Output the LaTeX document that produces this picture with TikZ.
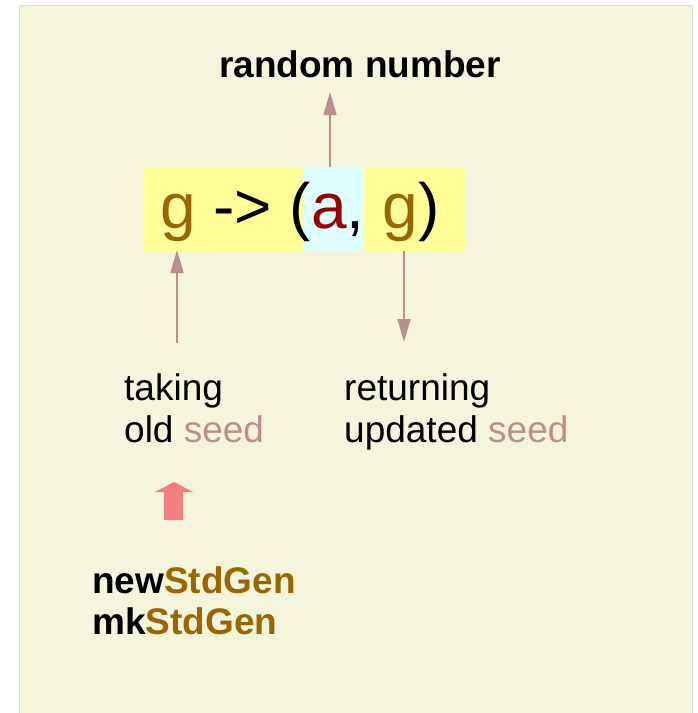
\documentclass[tikz,border=0pt]{standalone}
\usepackage{fontspec}
\setmainfont{Liberation Sans}
\usetikzlibrary{arrows.meta}
\definecolor{bg}{HTML}{F5F5DC}
\definecolor{bordergray}{HTML}{DDDDDD}
\definecolor{yel}{HTML}{FFFF99}
\definecolor{cy}{HTML}{DDFFFF}
\definecolor{gcol}{HTML}{996600}
\definecolor{acol}{HTML}{990000}
\definecolor{seedcol}{HTML}{BC8F8F}
\definecolor{arrcol}{HTML}{BC8F8F}
\definecolor{fatcol}{HTML}{F08080}
\tikzset{
  txt/.style={anchor=base west, inner sep=0pt, font=\fontsize{37}{42}\selectfont},
  btxt/.style={txt, font=\fontsize{37}{42}\selectfont\bfseries},
  conn/.style={draw=arrcol, line width=1.5pt, -{Triangle[length=23pt,width=13pt]}},
  boxbg/.style={inner sep=0pt, minimum height=84pt}
}
\begin{document}
\begin{tikzpicture}[x=1pt,y=-1pt]
\useasboundingbox (0,0) rectangle (697,713);
\fill[bg] (19,5) rectangle (692,713);
\draw[bordergray, line width=1pt] (19,713) -- (19,5) -- (692,5) -- (692,713);

\node[boxbg, fill=yel, minimum width=321pt] (box) at (304.5,209) {};
\node[boxbg, fill=cy, minimum width=61pt] (cyan) at (333.5,209) {};
\node[anchor=base west, inner sep=0pt, font=\fontsize{64}{72}\selectfont] (expr) at (160,228)
  {\textcolor{gcol}{g} -> (\textcolor{acol}{a}, \textcolor{gcol}{g})};

\node[btxt, anchor=base] (rn) at (360,77) {random number};

\node[txt] (tk1) at (124,400) {taking};
\node[txt] (tk2) at (124,442) {old \textcolor{seedcol}{seed}};
\node[txt] (rt1) at (344,400) {returning};
\node[txt] (rt2) at (344,442) {updated \textcolor{seedcol}{seed}};

\node[btxt] (ng) at (92,593) {new\textcolor{gcol}{StdGen}};
\node[btxt] (mk) at (92,634) {mk\textcolor{gcol}{StdGen}};

\coordinate (upS) at (330,167);
\coordinate (upE) at (330,92);
\coordinate (inS) at (177,343);
\coordinate (inE) at (177,250);
\coordinate (outS) at (404,251);
\coordinate (outE) at (404,342);
\draw[conn] (upS) -- (upE);
\draw[conn] (inS) -- (inE);
\draw[conn] (outS) -- (outE);

\fill[fatcol] (164,520) -- (164,492) -- (155,492) -- (174,482) -- (193,492) -- (183,492) -- (183,520) -- cycle;
\end{tikzpicture}
\end{document}
